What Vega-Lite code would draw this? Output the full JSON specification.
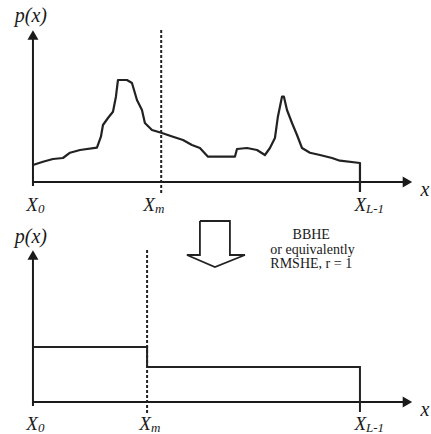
{
  "$schema": "https://vega.github.io/schema/vega-lite/v6.json",
  "background": "white",
  "padding": 0,
  "spacing": 0,
  "config": {"view": {"stroke": null}, "concat": {"spacing": 0}},
  "datasets": {
    "curve": [
      {"x": 0, "p": 17}, {"x": 7.8, "p": 20.3}, {"x": 15.6, "p": 23}, {"x": 23.4, "p": 24},
      {"x": 28.9, "p": 29.3}, {"x": 36.7, "p": 32}, {"x": 49.9, "p": 34.3}, {"x": 53, "p": 45.3},
      {"x": 54.6, "p": 57}, {"x": 58.5, "p": 64}, {"x": 62.4, "p": 70.3}, {"x": 64.7, "p": 85.3},
      {"x": 66.3, "p": 102}, {"x": 73.3, "p": 102}, {"x": 77.2, "p": 99}, {"x": 81.1, "p": 82},
      {"x": 85, "p": 72}, {"x": 87.3, "p": 59}, {"x": 92.8, "p": 52}, {"x": 100.6, "p": 49},
      {"x": 109.2, "p": 45.3}, {"x": 117, "p": 42}, {"x": 124, "p": 37}, {"x": 130.2, "p": 34},
      {"x": 136.5, "p": 25.3}, {"x": 157.5, "p": 25.3}, {"x": 159.1, "p": 33}, {"x": 166.9, "p": 34},
      {"x": 174.7, "p": 32}, {"x": 180.9, "p": 27}, {"x": 184.8, "p": 34}, {"x": 188.7, "p": 44},
      {"x": 191, "p": 65.3}, {"x": 194.2, "p": 85.3}, {"x": 195.7, "p": 85.3}, {"x": 198.1, "p": 72},
      {"x": 202, "p": 59}, {"x": 205.9, "p": 47}, {"x": 209.8, "p": 34}, {"x": 216, "p": 29.3},
      {"x": 223.8, "p": 27}, {"x": 233.2, "p": 24}, {"x": 239.4, "p": 21.3}, {"x": 255, "p": 19},
      {"x": 255, "p": -10}
    ],
    "step": [
      {"x": 0, "p": 55}, {"x": 89, "p": 55}, {"x": 89, "p": 35}, {"x": 255, "p": 35}, {"x": 255, "p": -10}
    ],
    "axes": [
      {"seg": "xaxis", "o": 0, "x": 0, "y": 0}, {"seg": "xaxis", "o": 1, "x": 293, "y": 0},
      {"seg": "yaxis", "o": 0, "x": 0, "y": -4}, {"seg": "yaxis", "o": 1, "x": 0, "y": 146}
    ],
    "heads": [
      {"x": 292, "y": 0, "shape": "triangle-right"},
      {"x": 0, "y": 147, "shape": "triangle-up"}
    ],
    "arrow": [
      {"o": 0, "x": 130.2, "y": 181}, {"o": 1, "x": 130.2, "y": 147}, {"o": 2, "x": 120.1, "y": 147},
      {"o": 3, "x": 141.9, "y": 135}, {"o": 4, "x": 165.3, "y": 147}, {"o": 5, "x": 153.6, "y": 147},
      {"o": 6, "x": 153.6, "y": 181}, {"o": 7, "x": 130.2, "y": 181}
    ],
    "note": [
      {"x": 217, "y": 167, "t": "BBHE"},
      {"x": 218, "y": 152.5, "t": "or equivalently"},
      {"x": 217, "y": 138, "t": "RMSHE, r = 1"}
    ]
  },
  "vconcat": [
    {
      "width": 431,
      "height": 217,
      "layer": [
        {
          "data": {"name": "axes"},
          "mark": {"type": "line", "color": "#1a1a1a", "strokeWidth": 2},
          "encoding": {
            "x": {"field": "x", "type": "quantitative", "scale": {"domain": [-25.7, 310.4], "nice": false, "zero": false}, "axis": null},
            "y": {"field": "y", "type": "quantitative", "scale": {"domain": [-35, 182], "nice": false, "zero": false}, "axis": null},
            "detail": {"field": "seg"},
            "order": {"field": "o"}
          }
        },
        {
          "data": {"name": "heads"},
          "mark": {"type": "point", "filled": true, "color": "#1a1a1a", "opacity": 1, "size": 120},
          "encoding": {
            "x": {"field": "x", "type": "quantitative", "axis": null},
            "y": {"field": "y", "type": "quantitative", "axis": null},
            "shape": {"field": "shape", "type": "nominal", "scale": null}
          }
        },
        {
          "data": {"values": [{"x": 100, "y": 152, "y2": -11}]},
          "mark": {"type": "rule", "color": "#222", "strokeWidth": 2, "strokeDash": [3, 2]},
          "encoding": {
            "x": {"field": "x", "type": "quantitative", "axis": null},
            "y": {"field": "y", "type": "quantitative", "axis": null},
            "y2": {"field": "y2"}
          }
        },
        {
          "data": {"name": "curve"},
          "mark": {"type": "line", "color": "#222", "strokeWidth": 2.2, "interpolate": "linear", "strokeJoin": "round"},
          "encoding": {
            "x": {"field": "x", "type": "quantitative", "axis": null},
            "y": {"field": "p", "type": "quantitative", "axis": null},
            "order": {"field": "x", "type": "quantitative"}
          }
        },
        {
          "data": {"values": [{"x": -1.6, "y": 166, "t": "p(x)"}, {"x": 305.7, "y": -8, "t": "x"}]},
          "mark": {"type": "text", "font": "Liberation Serif", "fontStyle": "italic", "fontSize": 20, "color": "#1a1a1a", "baseline": "middle", "align": "center"},
          "encoding": {
            "x": {"field": "x", "type": "quantitative", "axis": null},
            "y": {"field": "y", "type": "quantitative", "axis": null},
            "text": {"field": "t"}
          }
        },
        {
          "data": {"values": [{"x": 3.9, "y": -23, "t": "X"}, {"x": 95.1, "y": -23, "t": "X"}, {"x": 259.7, "y": -23, "t": "X"}]},
          "mark": {"type": "text", "font": "Liberation Serif", "fontStyle": "italic", "fontSize": 19, "color": "#1a1a1a", "baseline": "middle", "align": "right"},
          "encoding": {
            "x": {"field": "x", "type": "quantitative", "axis": null},
            "y": {"field": "y", "type": "quantitative", "axis": null},
            "text": {"field": "t"}
          }
        },
        {
          "data": {"values": [{"x": 3.9, "y": -23, "t": "0"}, {"x": 95.1, "y": -23, "t": "m"}, {"x": 259.7, "y": -23, "t": "L-1"}]},
          "mark": {"type": "text", "font": "Liberation Serif", "fontStyle": "italic", "fontSize": 13, "color": "#1a1a1a", "baseline": "middle", "align": "left", "dy": 4},
          "encoding": {
            "x": {"field": "x", "type": "quantitative", "axis": null},
            "y": {"field": "y", "type": "quantitative", "axis": null},
            "text": {"field": "t"}
          }
        }
      ]
    },
    {
      "width": 431,
      "height": 217,
      "layer": [
        {
          "data": {"name": "axes"},
          "mark": {"type": "line", "color": "#1a1a1a", "strokeWidth": 2},
          "encoding": {
            "x": {"field": "x", "type": "quantitative", "scale": {"domain": [-25.7, 310.4], "nice": false, "zero": false}, "axis": null},
            "y": {"field": "y", "type": "quantitative", "scale": {"domain": [-35, 182], "nice": false, "zero": false}, "axis": null},
            "detail": {"field": "seg"},
            "order": {"field": "o"}
          }
        },
        {
          "data": {"name": "heads"},
          "mark": {"type": "point", "filled": true, "color": "#1a1a1a", "opacity": 1, "size": 120},
          "encoding": {
            "x": {"field": "x", "type": "quantitative", "axis": null},
            "y": {"field": "y", "type": "quantitative", "axis": null},
            "shape": {"field": "shape", "type": "nominal", "scale": null}
          }
        },
        {
          "data": {"values": [{"x": 89, "y": 152, "y2": -11}]},
          "mark": {"type": "rule", "color": "#222", "strokeWidth": 2, "strokeDash": [3, 2]},
          "encoding": {
            "x": {"field": "x", "type": "quantitative", "axis": null},
            "y": {"field": "y", "type": "quantitative", "axis": null},
            "y2": {"field": "y2"}
          }
        },
        {
          "data": {"name": "step"},
          "mark": {"type": "line", "color": "#222", "strokeWidth": 2},
          "encoding": {
            "x": {"field": "x", "type": "quantitative", "axis": null},
            "y": {"field": "p", "type": "quantitative", "axis": null},
            "order": {"field": "x", "type": "quantitative"}
          }
        },
        {
          "data": {"name": "arrow"},
          "mark": {"type": "line", "color": "#222", "strokeWidth": 1.8},
          "encoding": {
            "x": {"field": "x", "type": "quantitative", "axis": null},
            "y": {"field": "y", "type": "quantitative", "axis": null},
            "order": {"field": "o", "type": "quantitative"}
          }
        },
        {
          "data": {"name": "note"},
          "mark": {"type": "text", "font": "Liberation Serif", "fontSize": 14, "color": "#1a1a1a", "baseline": "middle", "align": "center"},
          "encoding": {
            "x": {"field": "x", "type": "quantitative", "axis": null},
            "y": {"field": "y", "type": "quantitative", "axis": null},
            "text": {"field": "t"}
          }
        },
        {
          "data": {"values": [{"x": -1.6, "y": 165, "t": "p(x)"}, {"x": 305.7, "y": -8, "t": "x"}]},
          "mark": {"type": "text", "font": "Liberation Serif", "fontStyle": "italic", "fontSize": 20, "color": "#1a1a1a", "baseline": "middle", "align": "center"},
          "encoding": {
            "x": {"field": "x", "type": "quantitative", "axis": null},
            "y": {"field": "y", "type": "quantitative", "axis": null},
            "text": {"field": "t"}
          }
        },
        {
          "data": {"values": [{"x": 3.9, "y": -22, "t": "X"}, {"x": 92, "y": -22, "t": "X"}, {"x": 259.7, "y": -22, "t": "X"}]},
          "mark": {"type": "text", "font": "Liberation Serif", "fontStyle": "italic", "fontSize": 19, "color": "#1a1a1a", "baseline": "middle", "align": "right"},
          "encoding": {
            "x": {"field": "x", "type": "quantitative", "axis": null},
            "y": {"field": "y", "type": "quantitative", "axis": null},
            "text": {"field": "t"}
          }
        },
        {
          "data": {"values": [{"x": 3.9, "y": -22, "t": "0"}, {"x": 92, "y": -22, "t": "m"}, {"x": 259.7, "y": -22, "t": "L-1"}]},
          "mark": {"type": "text", "font": "Liberation Serif", "fontStyle": "italic", "fontSize": 13, "color": "#1a1a1a", "baseline": "middle", "align": "left", "dy": 4},
          "encoding": {
            "x": {"field": "x", "type": "quantitative", "axis": null},
            "y": {"field": "y", "type": "quantitative", "axis": null},
            "text": {"field": "t"}
          }
        }
      ]
    }
  ]
}
